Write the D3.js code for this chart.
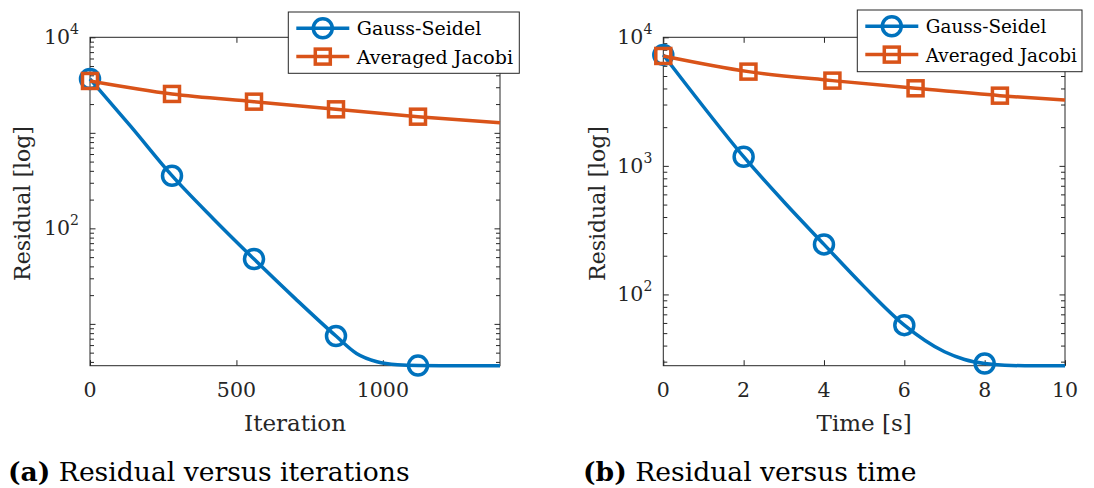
<!DOCTYPE html>
<html>
<head>
<meta charset="utf-8">
<script src="https://cdn.jsdelivr.net/npm/d3@7"></script>
<style>
  body { margin: 0; background: #fff; }
</style>
</head>
<body>
<div id="chart"></div>
<script>
// ---- data ----
// (a) residual versus iterations
const gsIter = [0, 140, 280, 420, 560, 700, 840, 910, 980, 1050, 1120, 1260, 1400];
const gsIterRes = [3664, 1161, 356, 127, 47.7, 18.5, 7.46, 4.91, 4.02, 3.73, 3.66, 3.65, 3.65];
const gsIterMarks = [0, 2, 4, 6, 10];
const ajIter = [0, 280, 560, 840, 1120, 1400];
const ajIterRes = [3491, 2552, 2120, 1762, 1476, 1277];
const ajIterMarks = [0, 1, 2, 3, 4];

// (b) residual versus time
const gsTime = [0, 1, 2, 3, 4, 5, 6, 7, 7.5, 8, 8.5, 9, 10];
const gsTimeRes = [7297, 2884, 1178, 526, 245, 115, 57.7, 35.8, 31.2, 29.0, 28.1, 27.9, 27.9];
const gsTimeMarks = [0, 2, 4, 6, 9];
const ajTime = [0, 2.12, 4.21, 6.28, 8.38, 10];
const ajTimeRes = [7159, 5408, 4603, 4012, 3516, 3250];
const ajTimeMarks = [0, 1, 2, 3, 4];

const seriesNames = ["Gauss-Seidel", "Averaged Jacobi"];
const seriesColors = ["#0072BD", "#D95319"];
const seriesSymbols = ["circle", "square"];

const iterTicks = [0, 500, 1000];
const timeTicks = [0, 2, 4, 6, 8, 10];
const captions = [["(a)", " Residual versus iterations"], ["(b)", " Residual versus time"]];

const FONT = "'DejaVu Serif', 'Noto Serif', serif";

// ---- drawing ----
let svg = d3.select("#chart").append("svg")
    .attr("width", 1094)
    .attr("height", 488)
    .attr("font-family", FONT);

let panels = [
  {x0: 90, x1: 500, y0: 37.3, y1: 365.7, xDomain: [0, 1400], xTicks: iterTicks,
   yDomain: [3.65, 1e4], yMajor: [10, 100, 1000, 10000], yLabeled: [100, 10000],
   xLabel: "Iteration", yLabelX: 30,
   legend: {x: 288.3, y: 12, w: 231, h: 61.3, fs: 19},
   series: [
     {x: gsIter, y: gsIterRes, marks: gsIterMarks},
     {x: ajIter, y: ajIterRes, marks: ajIterMarks}
   ], caption: captions[0], capX: 8},
  {x0: 663.3, x1: 1065, y0: 37.3, y1: 365.7, xDomain: [0, 10], xTicks: timeTicks,
   yDomain: [27.9, 1e4], yMajor: [100, 1000, 10000], yLabeled: [100, 1000, 10000],
   xLabel: "Time [s]", yLabelX: 605,
   legend: {x: 857.3, y: 10, w: 224.7, h: 61.7, fs: 18.4},
   series: [
     {x: gsTime, y: gsTimeRes, marks: gsTimeMarks},
     {x: ajTime, y: ajTimeRes, marks: ajTimeMarks}
   ], caption: captions[1], capX: 583}
];

function drawMarker(g, sym, cx, cy, color) {
  if (sym === "circle") {
    g.append("circle").attr("cx", cx).attr("cy", cy).attr("r", 9.5)
      .attr("fill", "none").attr("stroke", color).attr("stroke-width", 3.5);
  } else {
    g.append("rect").attr("x", cx - 7.5).attr("y", cy - 7.5)
      .attr("width", 15).attr("height", 15)
      .attr("fill", "none").attr("stroke", color).attr("stroke-width", 3.5);
  }
}

panels.forEach(function(p) {
  let x = d3.scaleLinear().domain(p.xDomain).range([p.x0, p.x1]);
  let y = d3.scaleLog().domain(p.yDomain).range([p.y1, p.y0]);
  let g = svg.append("g");

  // minor ticks for log axis
  let minor = [];
  let lo = Math.floor(Math.log10(p.yDomain[0])), hi = Math.ceil(Math.log10(p.yDomain[1]));
  for (let e = lo; e < hi; e++) {
    for (let k = 2; k <= 9; k++) {
      let v = k * Math.pow(10, e);
      if (v >= p.yDomain[0] && v <= p.yDomain[1]) minor.push(v);
    }
  }

  // axes, ticks pointing inwards
  let axStyle = function(sel) {
    sel.select(".domain").remove();
    sel.selectAll("line").attr("stroke", "#262626").attr("stroke-width", 1);
  };
  g.append("g").attr("transform", "translate(0," + p.y1 + ")")
    .call(d3.axisBottom(x).tickValues(p.xTicks).tickSize(-5.5).tickFormat("")).call(axStyle);
  g.append("g").attr("transform", "translate(0," + p.y0 + ")")
    .call(d3.axisTop(x).tickValues(p.xTicks).tickSize(-5.5).tickFormat("")).call(axStyle);
  g.append("g").attr("transform", "translate(" + p.x0 + ",0)")
    .call(d3.axisLeft(y).tickValues(p.yMajor).tickSize(-5.5).tickFormat("")).call(axStyle);
  g.append("g").attr("transform", "translate(" + p.x1 + ",0)")
    .call(d3.axisRight(y).tickValues(p.yMajor).tickSize(-5.5).tickFormat("")).call(axStyle);
  g.append("g").attr("transform", "translate(" + p.x0 + ",0)")
    .call(d3.axisLeft(y).tickValues(minor).tickSize(-4).tickFormat("")).call(axStyle);
  g.append("g").attr("transform", "translate(" + p.x1 + ",0)")
    .call(d3.axisRight(y).tickValues(minor).tickSize(-4).tickFormat("")).call(axStyle);

  g.append("rect")
    .attr("x", p.x0).attr("y", p.y0)
    .attr("width", p.x1 - p.x0).attr("height", p.y1 - p.y0)
    .attr("fill", "none").attr("stroke", "#262626").attr("stroke-width", 1);

  // tick labels
  g.selectAll(".xtl").data(p.xTicks).enter().append("text")
    .attr("x", d => x(d)).attr("y", p.y1 + 31)
    .attr("text-anchor", "middle").attr("font-family", FONT).attr("font-size", 20.5)
    .attr("fill", "#262626")
    .text(d => d);
  p.yLabeled.forEach(function(v) {
    let t = g.append("text")
      .attr("x", p.x0 - 11).attr("y", y(v) + 7)
      .attr("text-anchor", "end").attr("font-family", FONT).attr("font-size", 20.5)
      .attr("fill", "#262626");
    t.append("tspan").text("10");
    t.append("tspan").attr("dy", -10).attr("font-size", 14).text(Math.round(Math.log10(v)));
  });

  // axis labels
  g.append("text")
    .attr("x", (p.x0 + p.x1) / 2).attr("y", p.y1 + 65)
    .attr("text-anchor", "middle").attr("font-family", FONT).attr("font-size", 23)
    .attr("fill", "#262626")
    .text(p.xLabel);
  g.append("text")
    .attr("transform", "translate(" + p.yLabelX + "," + ((p.y0 + p.y1) / 2 + 2) + ") rotate(-90)")
    .attr("text-anchor", "middle").attr("font-family", FONT).attr("font-size", 22)
    .attr("fill", "#262626")
    .text("Residual [log]");

  // curves
  let line = d3.line().curve(d3.curveMonotoneX);
  p.series.forEach(function(s, i) {
    let pts = s.x.map((d, j) => [x(d), y(s.y[j])]);
    g.append("path").attr("d", line(pts))
      .attr("fill", "none").attr("stroke", seriesColors[i]).attr("stroke-width", 3.5);
    s.marks.forEach(function(j) {
      drawMarker(g, seriesSymbols[i], x(s.x[j]), y(s.y[j]), seriesColors[i]);
    });
  });

  // legend
  let L = p.legend;
  let lg = g.append("g").attr("transform", "translate(" + L.x + "," + L.y + ")");
  lg.append("rect").attr("width", L.w).attr("height", L.h)
    .attr("fill", "#fff").attr("stroke", "#262626").attr("stroke-width", 1);
  seriesNames.forEach(function(name, i) {
    let ry = i === 0 ? 16.3 : 44.6;
    lg.append("line").attr("x1", 8).attr("x2", 61).attr("y1", ry).attr("y2", ry)
      .attr("stroke", seriesColors[i]).attr("stroke-width", 3.5);
    drawMarker(lg, seriesSymbols[i], 34.5, ry, seriesColors[i]);
    lg.append("text").attr("x", 68.5).attr("y", ry + 7)
      .attr("font-family", FONT).attr("font-size", L.fs).attr("fill", "#000")
      .text(name);
  });

  // caption
  let c = svg.append("text").attr("x", p.capX).attr("y", 481)
    .attr("font-family", FONT).attr("font-size", 26.6).attr("fill", "#000");
  c.append("tspan").attr("font-weight", "bold").text(p.caption[0]);
  c.append("tspan").text(p.caption[1]);
});
</script>
</body>
</html>
